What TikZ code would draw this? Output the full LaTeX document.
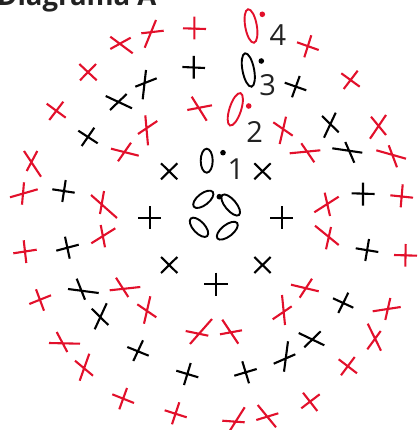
\documentclass[tikz,border=0pt]{standalone}
\usepackage{fontspec}
\setmainfont{Open Sans}
\usepackage{xcolor}
\definecolor{chartRed}{HTML}{E2102B}
\definecolor{chartInk}{HTML}{222222}
\usepackage{tikz}

\begin{document}
\begin{tikzpicture}[x=1pt, y=-1pt,
    title/.style={font=\fontsize{27.5}{27.5}\selectfont\bfseries, text=chartInk,
                  inner sep=0pt, anchor=base west},
    num/.style={font=\fontsize{29}{29}\selectfont, text=chartInk, inner sep=0pt},
    blackst/.style={draw=black, line width=2.1pt},
    redst/.style={draw=chartRed, line width=2.1pt},
    blackdot/.style={fill=black, draw=none},
    reddot/.style={fill=chartRed, draw=none}]
  \useasboundingbox (0,0) rectangle (417,430);
  \node[title] (head) at (-3,6) {Diagrama A};
  % foundation ring
  \foreach \cx/\cy/\rot/\ra/\rb in {203.3/199.3/38/12/5.8, 230.7/205/-50/13/5.5,
      199/227.3/-47/12/5.8, 227.3/230.7/38/12.5/5.8, 206.7/160.7/90/12/6,
      248.3/70/101/17/5.8}
    \draw[blackst, line width=1.9pt, shift={(\cx,\cy)}, rotate=\rot]
      (0,0) ellipse [x radius=\ra, y radius=\rb];
  \foreach \cx/\cy/\rot/\ra/\rb in {235.3/109.3/72/17/5.8, 251/26/100/17/5.8}
    \draw[redst, line width=1.9pt, shift={(\cx,\cy)}, rotate=\rot]
      (0,0) ellipse [x radius=\ra, y radius=\rb];
  \foreach \cx/\cy in {219.3/196.7, 223/152.7, 261.3/61}
    \fill[blackdot] (\cx,\cy) circle (2.8);
  \foreach \cx/\cy in {248.7/106, 262.3/14.3}
    \fill[reddot] (\cx,\cy) circle (2.8);
  \node[num] (one) at (236,169.5) {1};
  \node[num] (two) at (254.7,131.7) {2};
  \node[num] (three) at (267.7,85) {3};
  \node[num] (four) at (278,35) {4};
  % black stitches
  \foreach \a/\b/\c/\d/\e/\f/\g/\h in {
      182.3/67/205/68/193.7/56/193.7/78.7,
      135.3/86.7/156.7/78.3/146/70/142.7/99.3,
      105.7/96/132/108.3/110/110/126.7/94,
      78.3/130.7/97.7/143.3/81.7/146/94.3/127.7,
      161/179.3/177.3/163.3/161/163.3/177.3/179.3,
      52.3/189.3/74.7/192.7/65.7/180/62.3/202,
      284.7/82.7/306.3/90.3/299.7/76/292/97.3,
      322/116/338.7/132.3/335.7/112.7/324/137.7,
      332.3/148.3/362.3/152.7/345.3/142/354.3/162.7,
      351.7/193.3/374.7/194/363/182.7/363/205.7,
      254.3/163.3/270.7/179.3/254.3/179.3/270.7/163.3,
      270.3/218.3/293/218.3/282/206/282/229.3,
      138.3/218.3/161.3/218.3/150/206/150/229.3,
      56.3/250.7/78.7/244.7/65/236.7/69.7/258.7,
      161/273/177.3/257/161/257/177.3/273,
      68/289/98.7/293/76.7/278.7/85/299.7,
      91.7/308.7/108.3/325/106.7/303.3/94.7/329.3,
      127.3/347/148.7/355.7/143/340.3/133.3/361,
      176.3/370.7/198.3/377.3/190.7/363/184/385,
      204/284.3/227.7/284.3/216/272.7/216/295.7,
      254.3/257/270.7/273/254.3/273/270.7/257,
      355.7/248.3/378.3/252/369/239/365.3/261,
      333/298.3/353.3/307.7/348.3/292.7/338.3/313,
      298.7/333/324.3/345.3/304.3/347.3/320.7/331.3,
      273.7/363.7/295.3/354.3/288/341.3/284/371.7,
      234.3/375.7/256.7/369/242.3/361.3/249/383.3}
    \draw[blackst] (\a,\b) -- (\c,\d) (\e,\f) -- (\g,\h);
  % red stitches
  \foreach \a/\b/\c/\d/\e/\f/\g/\h in {
      110.3/36.7/132.7/53.3/110.3/49/130.7/37.7,
      141.3/33.3/163.7/30.7/144.7/47.7/156/20,
      183/28.3/206/29/194.3/16.7/194.3/39.3,
      80/80.3/96/64/79.3/64/96.7/80.3,
      46.7/103.7/65.7/117.7/49.3/120/63.3/101.7,
      138/134/157.3/121/145.3/115.3/148/145.3,
      111/148.7/138.7/155.7/118/161.3/131/142.7,
      187.3/110/212/105.3/191.7/96.7/206.7/120.7,
      24/151/41/176.7/37.3/151/26.7/171,
      10/197.3/37.7/189.3/24/182.3/22/204.7,
      91/195/117/218/104/191/100/214,
      297/42.3/318.7/50/311.3/35.3/304.3/57.3,
      341.3/73.3/359.7/86.7/343.7/89/357.7/70.7,
      273.3/122.3/292.7/135.7/286/116.7/279.7/144,
      289.7/153.3/320.3/150.3/301.3/143.3/314.3/162.3,
      370/138.7/386/115/371/116.7/386/135,
      376.3/150.3/406/158.7/388.7/145.3/397/167.3,
      314.3/212.3/338.7/196.7/324.7/192.7/330/216,
      390.3/195.3/413/197.7/402.7/184.3/400.7/207.3,
      91.3/243.3/115.3/228.3/100.7/225/105/247.3,
      13.3/253.3/36.7/249.7/23.7/240.3/26.3/263,
      109.7/290.3/140.3/287/116/277.7/128.3/297,
      29.3/304/51/295.3/36/289.3/44/310.7,
      137.3/304.3/156.3/317.3/150.3/296.3/144/323.7,
      49/343/80/343.7/56.7/332/67.3/352,
      75/360.7/93/375.7/89.3/353.7/79.7/380.7,
      112.3/394.3/134/403/127/388/119.3/409.3,
      164.7/410.3/186.7/417.3/179.3/402.3/172/424.3,
      185.7/331/208.3/335.7/212/319/190/344,
      315/225.7/338.7/245/331/227/326/249.3,
      394/255/417/255.7/405.7/244/405.3/266.7,
      291/284.7/318.7/291.3/312/278.7/299.7/297.7,
      272.7/319.3/291.7/306.3/282/295/285/325,
      372.7/311.3/400.7/307/390.3/298/385.3/320,
      220/334.3/242/330.3/222.3/319.7/238.3/343.7,
      367.7/323.7/381/350.7/380.7/331/367.3/349.3,
      338.7/359.3/357/373.3/354.7/357/341/375.3,
      301.3/408.3/319.7/394.3/303/392.7/317.3/411,
      256.3/420/278.3/413.3/257.7/405/276/427.3,
      222.3/420.7/244.7/422.3/244.7/407.3/229/432}
    \draw[redst] (\a,\b) -- (\c,\d) (\e,\f) -- (\g,\h);
\end{tikzpicture}
\end{document}
